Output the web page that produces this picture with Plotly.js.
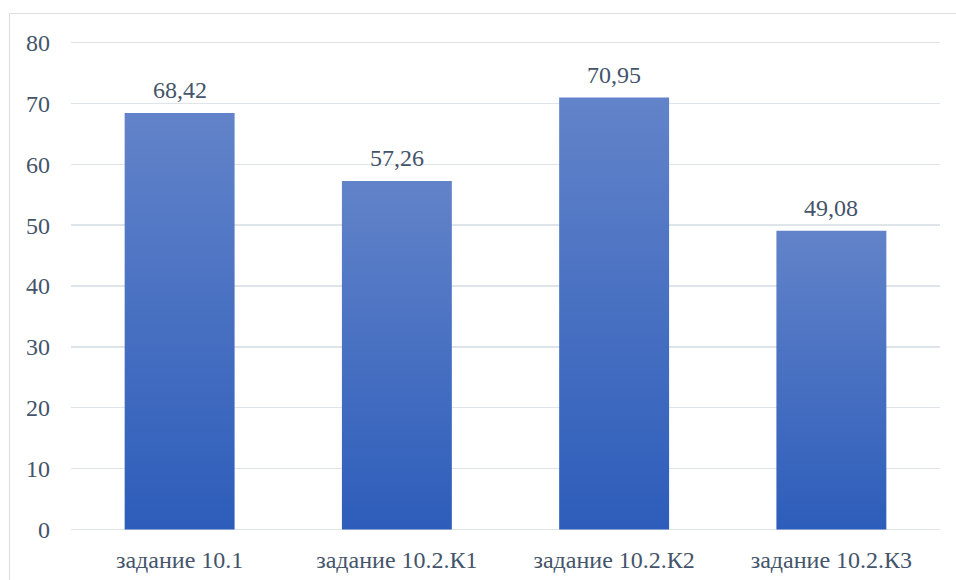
<!DOCTYPE html>
<html>
<head>
<meta charset="utf-8">
<script src="https://cdn.plot.ly/plotly-3.0.1.min.js"></script>
<style>
html,body{margin:0;padding:0;background:#fff;}
#wrap{position:relative;width:956px;height:580px;overflow:hidden;}
#chart{width:956px;height:580px;}
#frame{position:absolute;left:9px;top:13px;width:960px;height:600px;border:1.5px solid #dadde3;pointer-events:none;box-sizing:border-box;}
</style>
</head>
<body>
<div id="wrap">
<div id="chart"></div>
<div id="frame"></div>
</div>
<script>
const categories = ["задание 10.1", "задание 10.2.К1", "задание 10.2.К2", "задание 10.2.К3"];
const values = [68.42, 57.26, 70.95, 49.08];
const yTicks = [0, 10, 20, 30, 40, 50, 60, 70, 80];

const fontFam = "Liberation Serif";
const textColor = "#44546a";

const trace = {
  type: "bar",
  x: categories,
  y: values,
  marker: {color: "#4a72c4", line: {width: 0}},
  hoverinfo: "none"
};

const annotations = categories.map((c, i) => ({
  x: c, y: values[i], xref: "x", yref: "y",
  text: values[i].toFixed(2).replace(".", ","),
  showarrow: false, yanchor: "bottom", yshift: 8,
  font: {family: fontFam, size: 24, color: textColor}
}));

const layout = {
  width: 956, height: 580,
  margin: {l: 71, r: 16, t: 41, b: 49},
  paper_bgcolor: "#fff", plot_bgcolor: "#fff",
  bargap: 0.494,
  showlegend: false,
  font: {family: fontFam, size: 24, color: textColor},
  annotations: annotations,
  xaxis: {
    showline: false, ticks: "", showgrid: false, zeroline: false,
    ticklabelstandoff: 12,
    tickfont: {family: fontFam, size: 24, color: textColor}
  },
  yaxis: {
    range: [-0.25, 80.25], tickvals: yTicks, ticktext: yTicks.map(String),
    showgrid: true, gridcolor: "#dfe3ea", gridwidth: 1.5,
    zeroline: false, showline: false, ticks: "",
    ticklabelstandoff: 20,
    tickfont: {family: fontFam, size: 24, color: textColor}
  }
};

Plotly.newPlot("chart", [trace], layout, {staticPlot: true, displayModeBar: false}).then(gd => {
  const svg = gd.querySelector("svg.main-svg");
  const ns = "http://www.w3.org/2000/svg";
  let defs = svg.querySelector("defs");
  if (!defs) { defs = document.createElementNS(ns, "defs"); svg.insertBefore(defs, svg.firstChild); }
  const grad = document.createElementNS(ns, "linearGradient");
  grad.setAttribute("id", "barGrad");
  grad.setAttribute("x1", "0"); grad.setAttribute("y1", "0");
  grad.setAttribute("x2", "0"); grad.setAttribute("y2", "1");
  const s1 = document.createElementNS(ns, "stop");
  s1.setAttribute("offset", "0"); s1.setAttribute("stop-color", "#6283c9");
  const s2 = document.createElementNS(ns, "stop");
  s2.setAttribute("offset", "1"); s2.setAttribute("stop-color", "#2d5dba");
  grad.appendChild(s1); grad.appendChild(s2);
  defs.appendChild(grad);
  gd.querySelectorAll(".bars .point path").forEach(p => {
    p.style.fill = "url(#barGrad)";
  });
});
</script>
</body>
</html>
